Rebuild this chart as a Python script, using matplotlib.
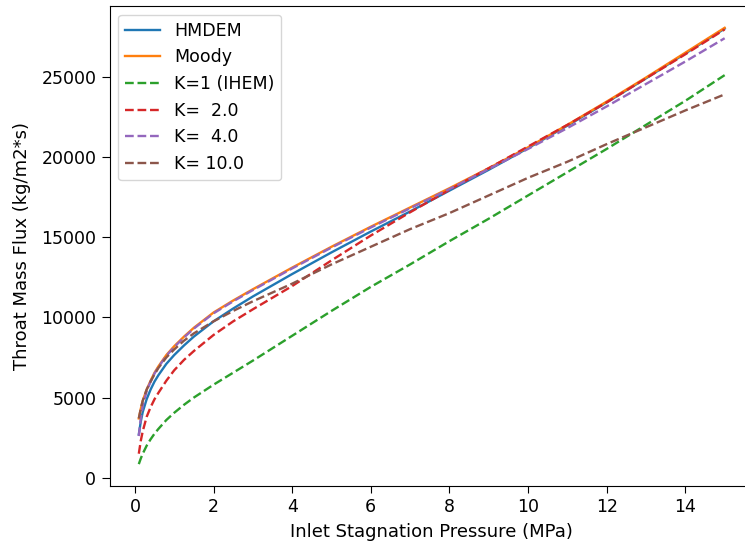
import numpy as np
import matplotlib
matplotlib.use('Agg')
import matplotlib.pyplot as plt

plt.rcParams['font.size'] = 12.5
plt.rcParams['axes.labelsize'] = 13
plt.rcParams['lines.linewidth'] = 1.7
plt.rcParams['xtick.major.size'] = 5
plt.rcParams['ytick.major.size'] = 6

# inlet stagnation pressure (MPa)
p = [0.1, 0.15, 0.2, 0.3, 0.4, 0.5, 0.6, 0.8, 1.0, 1.25, 1.5, 2, 2.5, 3, 4, 5, 6, 7, 8,
     9, 10, 11, 12, 13, 14, 15]

# throat mass flux (kg/m2*s)
hmdem = [2700, 3500, 4100, 4900, 5500, 6000, 6400, 7100, 7650, 8250, 8800, 9750, 10550,
         11300, 12700, 14050, 15350, 16600, 17900, 19200, 20550, 21950, 23400, 24900,
         26450, 28000]
moody = [3700, 4300, 4800, 5500, 6050, 6550, 6950, 7650, 8200, 8800, 9350, 10300, 11050,
         11750, 13100, 14400, 15650, 16850, 18050, 19300, 20600, 22000, 23450, 24950,
         26500, 28050]
k1 = [850, 1200, 1500, 2000, 2400, 2750, 3050, 3600, 4050, 4550, 5000, 5800, 6550, 7300,
      8850, 10400, 11900, 13300, 14750, 16150, 17600, 19050, 20500, 22000, 23500, 25100]
k2 = [1500, 2300, 2900, 3800, 4400, 4900, 5300, 6050, 6700, 7350, 7900, 8900, 9750, 10500,
      11950, 13550, 15100, 16550, 17950, 19300, 20650, 22000, 23400, 24900, 26400, 27950]
k4 = [2600, 3700, 4500, 5400, 6000, 6500, 6900, 7600, 8150, 8750, 9300, 10250, 11000,
      11700, 13050, 14350, 15600, 16800, 18000, 19250, 20500, 21800, 23150, 24550, 25950,
      27400]
k10 = [3700, 4300, 4800, 5500, 6000, 6450, 6850, 7500, 8000, 8550, 9000, 9750, 10400,
       11000, 12100, 13300, 14400, 15500, 16500, 17600, 18700, 19700, 20800, 21850, 22900,
       23900]

fig = plt.figure(figsize=(7.45, 5.46), dpi=100)
ax = fig.add_axes([0.147, 0.110, 0.865, 0.879])

ax.plot(p, hmdem, label='HMDEM')
ax.plot(p, moody, label='Moody')
ax.plot(p, k1, '--', label='K=1 (IHEM)')
ax.plot(p, k2, '--', label='K=  2.0')
ax.plot(p, k4, '--', label='K=  4.0')
ax.plot(p, k10, '--', label='K= 10.0')

ax.set_xlabel('Inlet Stagnation Pressure (MPa)', labelpad=5.5)
ax.set_ylabel('Throat Mass Flux (kg/m2*s)', labelpad=7.5)
ax.legend(loc='upper left')

plt.savefig('out.png')
